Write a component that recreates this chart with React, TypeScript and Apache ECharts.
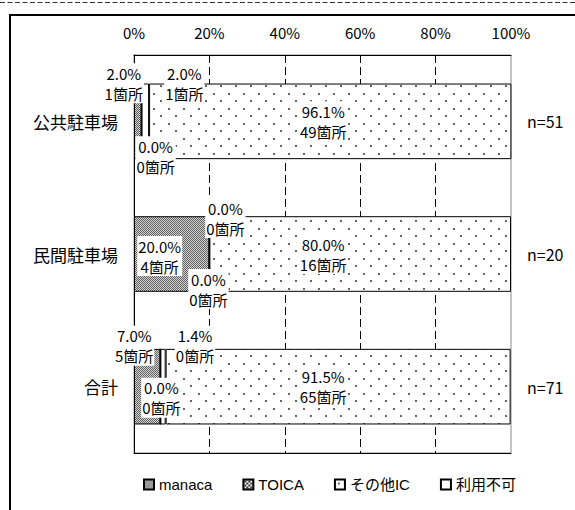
import React, { useEffect, useRef } from "react";
import * as echarts from "echarts";

// ---- data ----
const categories = ["公共駐車場", "民間駐車場", "合計"];
const nLabels = ["n=51", "n=20", "n=71"];
const manacaPct = [2.0, 20.0, 7.0];
const manacaCnt = [1, 4, 5];
const toicaPct = [0.0, 0.0, 0.0];
const toicaCnt = [0, 0, 0];
const otherPct = [96.1, 80.0, 91.5];
const otherCnt = [49, 16, 65];
const nonePct = [2.0, 0.0, 1.4];
const noneCnt = [1, 0, 0];
const xMin = 0;
const xMax = 100;
const xStep = 20;

// label offsets (styling only)
const offManaca = [[-14, -38], [-12, 2], [-13, -41]];
const offToica = [[14, 35], [16, -36], [1, 11]];
const offNone = [[39, -38], [-1, 35], [32, -41]];
const offOther = [[-7, 0], [-37, 0], [-15, 0]];

const FONT = "'Noto Sans CJK JP', sans-serif";

function makeCanvas(w: number, h: number, draw: (c: CanvasRenderingContext2D) => void) {
  const cv = document.createElement("canvas");
  cv.width = w;
  cv.height = h;
  const ctx = cv.getContext("2d")!;
  draw(ctx);
  return cv;
}

export default function App() {
  const ref = useRef<HTMLDivElement>(null);

  useEffect(() => {
    if (!ref.current) return;
    const chart = echarts.init(ref.current, undefined, { renderer: "svg" });

    const manacaPat = makeCanvas(2, 2, (c) => {
      c.fillStyle = "#d4d4d4";
      c.fillRect(0, 0, 2, 2);
      c.fillStyle = "#606060";
      c.fillRect(0, 0, 1, 1);
      c.fillRect(1, 1, 1, 1);
    });
    const toicaPat = makeCanvas(4, 4, (c) => {
      c.fillStyle = "#ffffff";
      c.fillRect(0, 0, 4, 4);
      c.fillStyle = "#333333";
      for (let i = 0; i < 4; i++) {
        c.fillRect(i, i, 1, 1);
        c.fillRect(3 - i, i, 1, 1);
      }
    });
    const dotPat = makeCanvas(15, 15, (c) => {
      c.fillStyle = "#ffffff";
      c.fillRect(0, 0, 15, 15);
      c.fillStyle = "#666666";
      c.fillRect(3, 3, 2, 2);
      c.fillRect(10, 10, 2, 2);
    });

    const labelBase = {
      show: true,
      position: "inside",
      color: "#000",
      fontSize: 15,
      lineHeight: 20,
      fontFamily: FONT,
      backgroundColor: "#fff",
      padding: [0, 1],
    };

    const build = (
      name: string,
      pct: number[],
      cnt: number[],
      offs: number[][],
      color: any
    ) => ({
      name,
      type: "bar",
      stack: "total",
      barWidth: "57%",
      xAxisIndex: 0,
      yAxisIndex: 0,
      itemStyle: { color, borderColor: "#000", borderWidth: 1 },
      label: {
        ...labelBase,
        formatter: (p: any) =>
          `${pct[p.dataIndex].toFixed(1)}%\n${cnt[p.dataIndex]}箇所`,
      },
      emphasis: { disabled: true },
      data: pct.map((v, i) => ({ value: v, label: { offset: offs[i] } })),
    });

    chart.setOption({
      animation: false,
      textStyle: { fontFamily: FONT },
      grid: {
        left: 134,
        right: 64,
        top: 55,
        bottom: 57,
        show: true,
        borderColor: "#8a8a8a",
        borderWidth: 1,
      },
      legend: {
        data: ["manaca", "TOICA", "その他IC", "利用不可"],
        left: 143,
        top: 477,
        padding: 0,
        itemWidth: 10,
        itemHeight: 10,
        itemGap: 30,
        icon: "rect",
        textStyle: {
          fontSize: 15,
          color: "#000",
          fontFamily: "'Liberation Sans', 'Noto Sans CJK JP', sans-serif",
        },
        selectedMode: false,
      },
      xAxis: [
        {
          type: "value",
          position: "top",
          min: xMin,
          max: xMax,
          interval: xStep,
          axisLine: { show: true, lineStyle: { color: "#000", width: 1 } },
          axisTick: { show: false },
          axisLabel: {
            formatter: "{value}%",
            fontSize: 15,
            color: "#000",
            margin: 15,
            fontFamily: FONT,
          },
          splitLine: {
            show: true,
            showMinLine: false,
            showMaxLine: false,
            lineStyle: { color: "#000", type: [8, 4], width: 1 },
          },
        },
        {
          type: "value",
          position: "bottom",
          min: xMin,
          max: xMax,
          interval: xStep,
          axisLine: { show: true, lineStyle: { color: "#000", width: 1 } },
          axisTick: { show: false },
          axisLabel: { show: false },
          splitLine: { show: false },
        },
      ],
      yAxis: [
        {
          type: "category",
          data: categories,
          inverse: true,
          axisLine: { show: true, lineStyle: { color: "#000", width: 1 } },
          axisTick: { show: false },
          axisLabel: { fontSize: 17, color: "#000", margin: 16, fontFamily: FONT },
        },
        {
          type: "category",
          data: nLabels,
          inverse: true,
          position: "right",
          axisLine: { show: false },
          axisTick: { show: false },
          axisLabel: { fontSize: 16, color: "#000", margin: 16, fontFamily: FONT },
        },
      ],
      graphic: [
        {
          type: "line",
          shape: { x1: 0, y1: 2.5, x2: 575, y2: 2.5 },
          style: { stroke: "#333", lineWidth: 1, lineDash: [5, 2.5] },
          silent: true,
        },
        {
          type: "rect",
          shape: { x: 10, y: 15, width: 620, height: 620 },
          style: { fill: "none", stroke: "#000", lineWidth: 2 },
          silent: true,
        },
      ],
      series: [
        build("manaca", manacaPct, manacaCnt, offManaca, { image: manacaPat, repeat: "repeat" }),
        build("TOICA", toicaPct, toicaCnt, offToica, { image: toicaPat, repeat: "repeat" }),
        build("利用不可", nonePct, noneCnt, offNone, "#ffffff"),
        build("その他IC", otherPct, otherCnt, offOther, { image: dotPat, repeat: "repeat" }),
      ],
    });

    return () => chart.dispose();
  }, []);

  return (
    <div
      ref={ref}
      style={{ position: "absolute", left: 0, top: 0, width: 575, height: 510 }}
    />
  );
}
